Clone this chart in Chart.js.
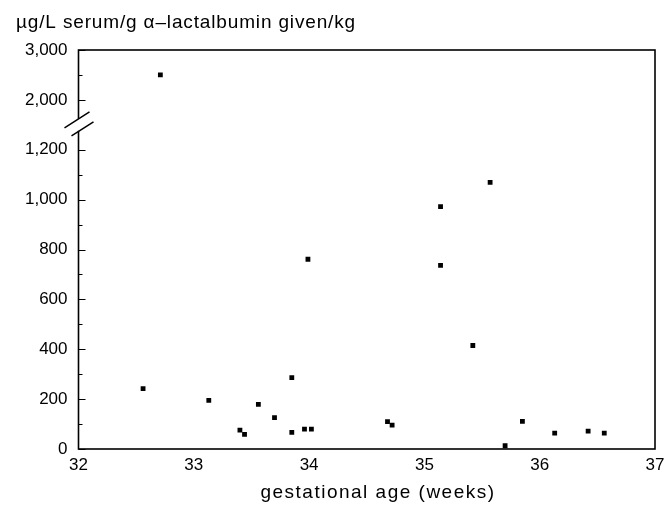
<!DOCTYPE html>
<html>
<head>
<meta charset="utf-8">
<script src="https://cdn.jsdelivr.net/npm/chart.js@4/dist/chart.umd.min.js"></script>
<style>
  html, body { margin: 0; padding: 0; background: #fff; }
  #wrap { width: 664px; height: 506px; }
</style>
</head>
<body>
<div id="wrap"><canvas id="chart" width="664" height="506"></canvas></div>
<script>
// ---- data ----
const weeks = [32.56, 32.71, 33.13, 33.40, 33.44, 33.56, 33.70, 33.85, 33.85, 33.96, 33.99, 34.02,
               34.68, 34.72, 35.14, 35.14, 35.42, 35.57, 35.70, 35.85, 36.13, 36.42, 36.56];
const values = [242, 2500, 195, 76, 59, 179, 126, 286, 67, 80, 761, 80,
                110, 96, 972, 736, 415, 1069, 13, 111, 64, 72, 64];
const xTicks = [32, 33, 34, 35, 36, 37];
const yTickValues = [0, 200, 400, 600, 800, 1000, 1200, 2000, 3000];
const yMinorValues = [100, 300, 500, 700, 900, 1100, 2500];

const yTitle = 'µg/L serum/g α–lactalbumin given/kg';
const xTitle = 'gestational age (weeks)';

// broken axis: 0-1200 linear, 1200-2000 squeezed, 2000-3000 squeezed
function toAxis(v) {
  if (v <= 1200) return v;
  if (v <= 2000) return 1200 + (v - 1200) / 800 * 200;
  return 1400 + (v - 2000) / 1000 * 200;
}
function fromAxis(p) {
  if (p <= 1200) return p;
  if (p <= 1400) return 1200 + (p - 1200) / 200 * 800;
  return 2000 + (p - 1400) / 200 * 1000;
}

const points = weeks.map((w, i) => ({ x: w, y: toAxis(values[i]) }));
const FONT = '"Liberation Sans", Arial, Helvetica, sans-serif';

// frame, inward ticks, axis break and titles
const decor = {
  id: 'decor',
  afterDraw(chart) {
    const { ctx, chartArea: a, scales } = chart;
    const ys = scales.y;
    ctx.save();
    ctx.strokeStyle = '#000';
    ctx.lineWidth = 1.6;
    ctx.strokeRect(a.left, a.top, a.right - a.left, a.bottom - a.top);

    ctx.lineWidth = 1;
    yTickValues.forEach(v => {
      const py = Math.round(ys.getPixelForValue(toAxis(v))) + 0.5;
      ctx.beginPath(); ctx.moveTo(a.left, py); ctx.lineTo(a.left + 7, py); ctx.stroke();
    });
    yMinorValues.forEach(v => {
      const py = Math.round(ys.getPixelForValue(toAxis(v))) + 0.5;
      ctx.beginPath(); ctx.moveTo(a.left, py); ctx.lineTo(a.left + 4, py); ctx.stroke();
    });

    // axis break between 1,200 and 2,000
    const yb = ys.getPixelForValue(1300);
    ctx.fillStyle = '#fff';
    ctx.fillRect(a.left - 2, yb - 6, 5, 12);
    ctx.lineWidth = 1.5;
    ctx.beginPath();
    ctx.moveTo(a.left - 14, yb + 3); ctx.lineTo(a.left + 11, yb - 13);
    ctx.moveTo(a.left - 7, yb + 11); ctx.lineTo(a.left + 15, yb - 3);
    ctx.stroke();

    // titles
    ctx.fillStyle = '#000';
    ctx.font = '19px ' + FONT;
    ctx.textBaseline = 'middle';
    ctx.textAlign = 'left';
    ctx.letterSpacing = '0.85px';
    ctx.fillText(yTitle, 16, 23);
    ctx.letterSpacing = '1.5px';
    ctx.textAlign = 'center';
    ctx.fillText(xTitle, 378, 493);
    ctx.restore();
  }
};

new Chart(document.getElementById('chart'), {
  type: 'scatter',
  data: {
    datasets: [{
      data: points,
      pointStyle: 'rect',
      pointRadius: 3.4,
      pointHoverRadius: 3.4,
      backgroundColor: '#000',
      borderColor: '#000',
      borderWidth: 0
    }]
  },
  options: {
    responsive: false,
    animation: false,
    events: [],
    layout: { padding: { top: 50, right: 9, left: 0, bottom: 0 } },
    plugins: { legend: { display: false }, tooltip: { enabled: false } },
    scales: {
      x: {
        type: 'linear',
        min: 32, max: 37,
        afterBuildTicks: s => { s.ticks = xTicks.map(v => ({ value: v })); },
        afterFit: s => { s.height = 57; s.paddingLeft = 0; s.paddingRight = 0; },
        grid: { display: false, drawTicks: false },
        border: { display: false },
        ticks: { color: '#000', font: { family: FONT, size: 17 }, padding: 6, maxRotation: 0 }
      },
      y: {
        type: 'linear',
        min: 0, max: 1600,
        afterBuildTicks: s => { s.ticks = yTickValues.map(v => ({ value: toAxis(v) })); },
        afterFit: s => { s.width = 78.5; s.paddingTop = 0; s.paddingBottom = 0; },
        grid: { display: false, drawTicks: false },
        border: { display: false },
        ticks: {
          color: '#000', font: { family: FONT, size: 17 }, padding: 11,
          callback: v => Math.round(fromAxis(v)).toLocaleString('en-US')
        }
      }
    }
  },
  plugins: [decor]
});
</script>
</body>
</html>
